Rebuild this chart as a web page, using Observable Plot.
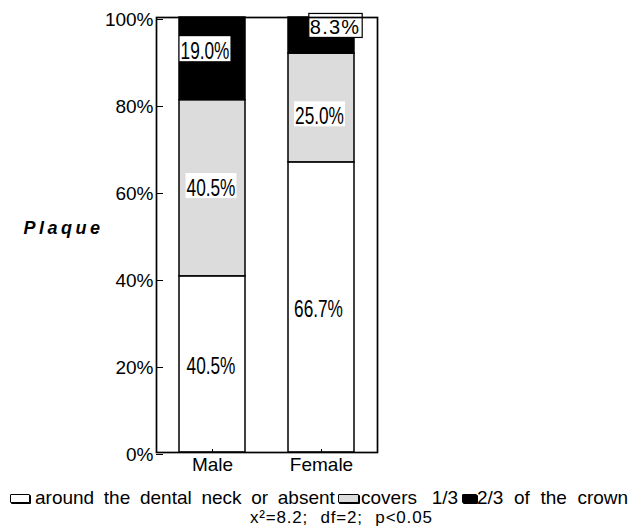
<!DOCTYPE html>
<html><head><meta charset="utf-8">
<script src="https://cdn.jsdelivr.net/npm/d3@7"></script>
<script src="https://cdn.jsdelivr.net/npm/@observablehq/plot@0.6"></script>
<style>
body{margin:0;background:#fff;font-family:"Liberation Sans",Arial,sans-serif;}
#wrap{position:relative;width:644px;height:528px;}
#legend{position:absolute;left:0;top:0;width:644px;height:528px;font-size:19px;color:#000;line-height:19px;pointer-events:none;}
#legend span{position:absolute;white-space:nowrap;}
#legend .sw{box-sizing:border-box;height:9px;border:1.5px solid #000;border-radius:1px;box-shadow:1px 1px 0 #000;}
#legend .stats{font-size:17px;line-height:17px;letter-spacing:0.8px;}
</style>
</head><body><div id="wrap"><div id="chart"></div><div id="legend"></div></div>
<script>
const groups = ["Male", "Female"];
const levels = ["around the dental neck or absent", "covers 1/3", "2/3 of the crown"];
const maleValues = [40.5, 40.5, 19.0];
const femaleValues = [66.7, 25.0, 8.3];
const levelColors = ["#ffffff", "#dcdcdc", "#000000"];
const yTicks = [0, 20, 40, 60, 80, 100];
const axisTitle = "Plaque";
const statsText = "x²=8.2; df=2; p<0.05";

const seriesByGroup = {Male: maleValues, Female: femaleValues};
const rows = [];
for (const g of groups) levels.forEach((l, i) => rows.push({group: g, level: l, value: seriesByGroup[g][i]}));
const fmt = d => d.value.toFixed(1) + "%";

const stackOpts = {x: "group", y: "value", z: "level", order: levels};
const labelFont = "'Liberation Sans', Arial, sans-serif";

// one label mark per (group, level) so each can be nudged like in the reference
function labelMark(gi, li, dx, dy, size = 23) {
  return Plot.text(rows, Plot.stackY({...stackOpts,
    text: d => (d.group === groups[gi] && d.level === levels[li]) ? fmt(d) : null,
    fontFamily: labelFont, fontSize: size, dx, dy, fill: "#000"}));
}

const plot = Plot.plot({
  width: 644,
  height: 480,
  marginTop: 17,
  marginBottom: 28,
  marginLeft: 156,
  marginRight: 267,
  style: {fontFamily: labelFont, fontSize: "19px", color: "#000", background: "#fff"},
  x: {domain: groups, paddingInner: 0.39, paddingOuter: 0.2, label: null},
  y: {domain: [0, 100], label: null},
  color: {domain: levels, range: levelColors},
  marks: [
    Plot.barY(rows, Plot.stackY({...stackOpts, fill: "level", stroke: "#000", strokeWidth: 1.5})),
    labelMark(0, 0, -1.5, 2.5),
    labelMark(0, 1, -1.5, 0.5),
    labelMark(0, 2, -7.5, -7),
    labelMark(1, 0, -3, 2.5),
    labelMark(1, 1, -2, 9),
    labelMark(1, 2, 13.5, -7.5, 20),
    Plot.text([axisTitle], {text: d => d, frameAnchor: "left", textAnchor: "start", dx: -133, dy: -7,
      fontWeight: "bold", fontStyle: "italic", fontSize: 18, fill: "#000"}),
    Plot.frame({stroke: "#000", strokeWidth: 1.7}),
    Plot.axisY({ticks: yTicks, tickFormat: d => d + "%", tickSize: 7, dx: 7, tickPadding: 3, dy: 2, fontSize: 19}),
    Plot.axisX({tickSize: 3, dy: -3, tickPadding: 5, fontSize: 19})
  ]
});
document.getElementById("chart").appendChild(plot);

// white boxes behind the bar labels (narrow glyphs like the reference)
const NS = "http://www.w3.org/2000/svg";
const tg = plot.querySelectorAll('g[aria-label="text"]');
for (let k = 0; k < 6; k++) {
  const g = tg[k];
  if (!g) continue;
  const boxed = k === 5;
  g.querySelectorAll("text").forEach(t => {
    if (!t.textContent) return;
    if (boxed) {
      t.style.letterSpacing = "1.2px";
    } else {
      const w0 = t.getComputedTextLength();
      t.setAttribute("textLength", (w0 * 0.75).toFixed(1));
      t.setAttribute("lengthAdjust", "spacingAndGlyphs");
    }
    const b = t.getBBox();
    const r = document.createElementNS(NS, "rect");
    r.setAttribute("x", b.x - 1);
    r.setAttribute("y", b.y - (boxed ? 3 : 2));
    r.setAttribute("width", b.width + (boxed ? 3 : 2));
    r.setAttribute("height", b.height + (boxed ? 2 : -1));
    r.setAttribute("fill", "#fff");
    if (boxed) { r.setAttribute("stroke", "#000"); r.setAttribute("stroke-width", 1.2); }
    if (t.getAttribute("transform")) r.setAttribute("transform", t.getAttribute("transform"));
    t.parentNode.insertBefore(r, t);
  });
}
if (tg[6]) tg[6].querySelectorAll("text").forEach(t => t.style.letterSpacing = "3.5px");

// legend (HTML below the svg)
const leg = document.getElementById("legend");
const swLeft = [10, 338, 462], swWidth = [20, 21, 15];
const txtLeft = [35, 361, 477], txtWordSpacing = [4.4, 9.4, 5.3];
levels.forEach((l, i) => {
  const sw = document.createElement("span");
  sw.className = "sw";
  sw.style.left = swLeft[i] + "px";
  sw.style.top = "494px";
  sw.style.width = swWidth[i] + "px";
  sw.style.background = levelColors[i];
  leg.appendChild(sw);
  const tx = document.createElement("span");
  tx.textContent = l;
  tx.style.left = txtLeft[i] + "px";
  tx.style.top = "487.5px";
  tx.style.wordSpacing = txtWordSpacing[i] + "px";
  leg.appendChild(tx);
});
const st = document.createElement("span");
st.className = "stats";
st.textContent = statsText;
st.style.left = "250px";
st.style.top = "509px";
st.style.wordSpacing = "7px";
leg.appendChild(st);
</script></body></html>
